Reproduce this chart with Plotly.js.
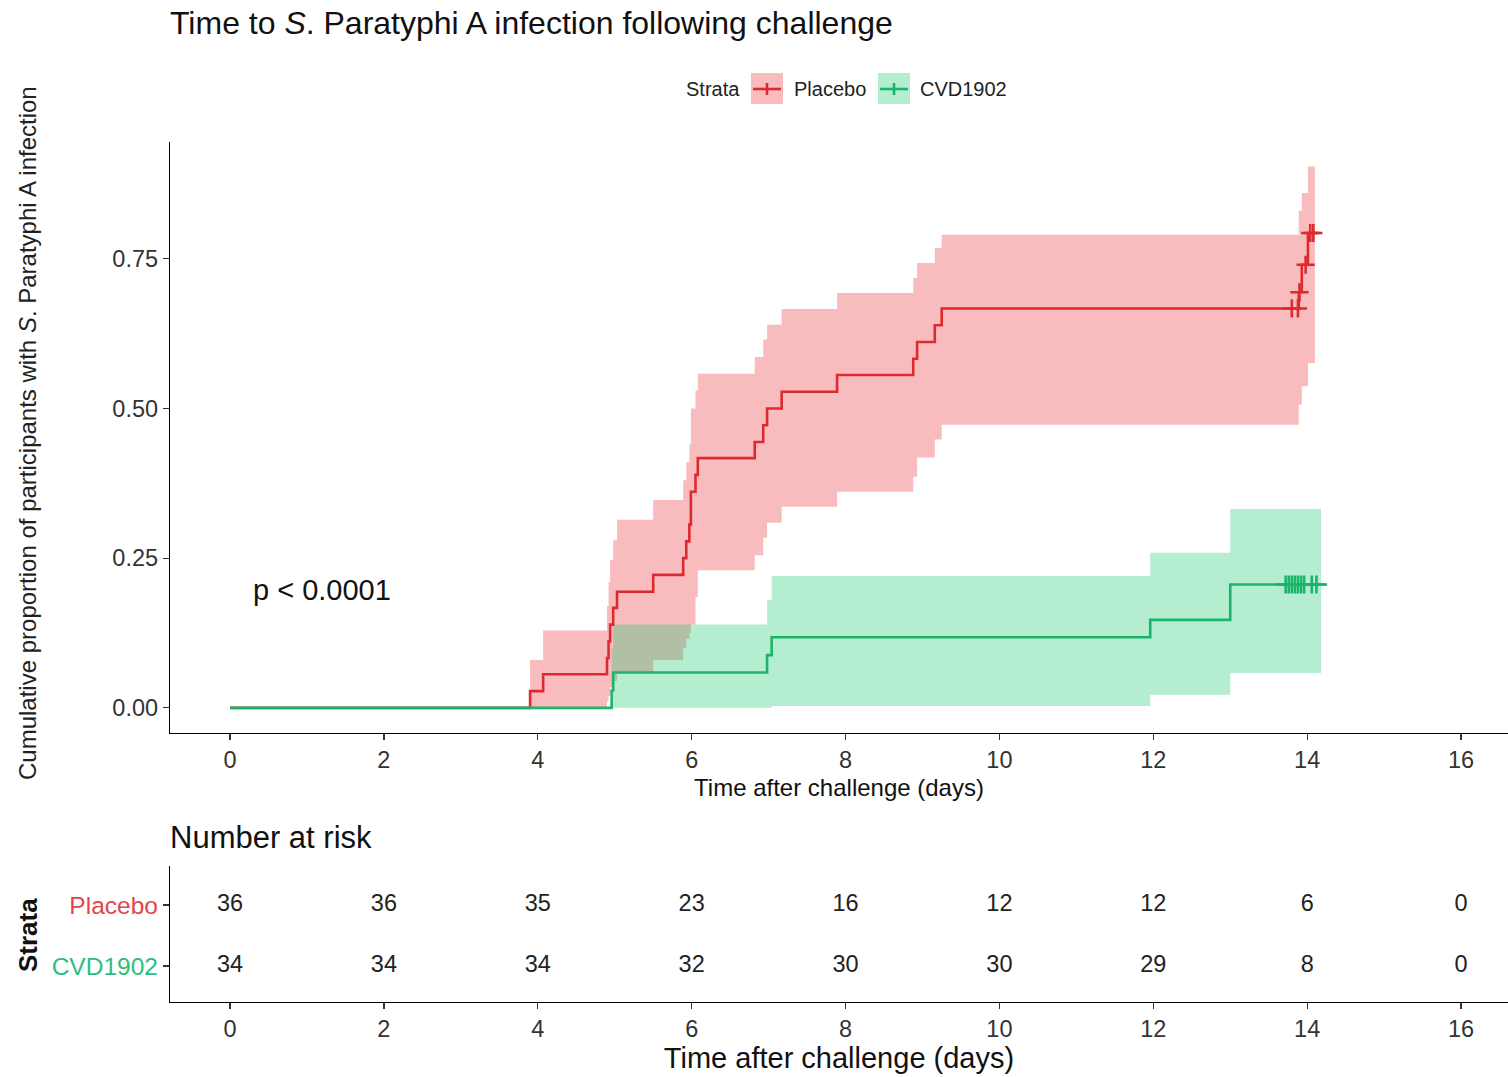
<!DOCTYPE html>
<html><head><meta charset="utf-8">
<script src="https://cdn.plot.ly/plotly-3.0.1.min.js"></script>
<style>html,body{margin:0;padding:0;background:#fff}#chart{width:1508px;height:1077px}</style>
</head><body><div id="chart"></div>
<script>
const W = 1508, H = 1077;
const px = v => v / W, py = v => 1 - v / H;

// ---- Placebo Kaplan-Meier (cumulative incidence) ----
const placeboTime = [0, 3.90, 4.07, 4.90, 4.92, 4.94, 4.98, 5.03, 5.50, 5.89, 5.93, 5.97, 5.99, 6.05, 6.08, 6.82, 6.93, 6.98, 7.17, 7.89, 8.88, 8.93, 9.16, 9.25, 13.89, 13.93, 14.01, 14.14];
const placeboCum  = [0, 0.028, 0.056, 0.083, 0.111, 0.139, 0.167, 0.194, 0.222, 0.250, 0.278, 0.306, 0.361, 0.389, 0.417, 0.444, 0.472, 0.500, 0.528, 0.556, 0.583, 0.611, 0.639, 0.667, 0.694, 0.740, 0.793, 0.793];
const placeboBandTime = [3.90, 4.07, 4.90, 4.92, 4.94, 4.98, 5.03, 5.50, 5.89, 5.93, 5.97, 5.99, 6.05, 6.08, 6.82, 6.93, 6.98, 7.17, 7.89, 8.88, 8.93, 9.16, 9.25, 13.89, 13.93, 14.01, 14.10];
const placeboUpper = [0.080, 0.129, 0.17, 0.21, 0.247, 0.28, 0.314, 0.347, 0.38, 0.41, 0.44, 0.50, 0.53, 0.558, 0.586, 0.615, 0.640, 0.666, 0.693, 0.718, 0.743, 0.768, 0.790, 0.83, 0.86, 0.904, 0.904];
const placeboLower = [0, 0, 0.01, 0.02, 0.035, 0.045, 0.058, 0.080, 0.10, 0.115, 0.125, 0.139, 0.185, 0.23, 0.255, 0.284, 0.309, 0.336, 0.361, 0.386, 0.418, 0.448, 0.473, 0.506, 0.537, 0.576, 0.576];
const placeboCensTime = [13.80, 13.88, 13.90, 13.98, 14.04, 14.08];
const placeboCensCum  = [0.667, 0.667, 0.694, 0.740, 0.793, 0.793];

// ---- CVD1902 ----
const cvdTime = [0, 4.96, 4.98, 6.98, 7.04, 11.96, 13.00, 14.26];
const cvdCum  = [0, 0.029, 0.059, 0.088, 0.118, 0.147, 0.206, 0.206];
const cvdBandTime = [4.96, 4.98, 6.98, 7.04, 11.96, 13.00, 14.18];
const cvdUpper = [0.10, 0.139, 0.18, 0.22, 0.259, 0.332, 0.332];
const cvdLower = [0, 0, 0, 0.003, 0.022, 0.058, 0.058];
const cvdCensTime = [13.72, 13.76, 13.80, 13.84, 13.88, 13.92, 13.96, 14.06, 14.12];
const cvdCensCum  = [0.206, 0.206, 0.206, 0.206, 0.206, 0.206, 0.206, 0.206, 0.206];

// ---- Number at risk ----
const riskTimes = [0, 2, 4, 6, 8, 10, 12, 14, 16];
const placeboRisk = [36, 36, 35, 23, 16, 12, 12, 6, 0];
const cvdRisk = [34, 34, 34, 32, 30, 30, 29, 8, 0];
const strataNames = ['Placebo', 'CVD1902'];
const xTicks = [0, 2, 4, 6, 8, 10, 12, 14, 16];
const yTicks = [0, 0.25, 0.50, 0.75];

const RED = '#DD2A2E', GREEN = '#1CB46A';
const RED_FILL = 'rgba(236,40,45,0.31)', GREEN_FILL = 'rgba(30,200,115,0.33)';
const RED_TXT = '#E0474B', GREEN_TXT = '#2DBE7C';

const band = (t, v, extra) => Object.assign({x: t, y: v, mode: 'lines', line: {shape: 'hv', width: 0}, hoverinfo: 'skip', showlegend: false, xaxis: 'x', yaxis: 'y'}, extra || {});

const traces = [
  band(placeboBandTime, placeboUpper),
  band(placeboBandTime, placeboLower, {fill: 'tonexty', fillcolor: RED_FILL}),
  band(cvdBandTime, cvdUpper),
  band(cvdBandTime, cvdLower, {fill: 'tonexty', fillcolor: GREEN_FILL}),
  {x: placeboTime, y: placeboCum, mode: 'lines', line: {shape: 'hv', width: 2.6, color: RED}, name: strataNames[0], showlegend: false, xaxis: 'x', yaxis: 'y'},
  {x: cvdTime, y: cvdCum, mode: 'lines', line: {shape: 'hv', width: 2.6, color: GREEN}, name: strataNames[1], showlegend: false, xaxis: 'x', yaxis: 'y'},
  {x: placeboCensTime, y: placeboCensCum, mode: 'markers', marker: {symbol: 'cross-thin', size: 13, color: RED, line: {width: 2.6, color: RED}}, showlegend: false, xaxis: 'x', yaxis: 'y'},
  {x: cvdCensTime, y: cvdCensCum, mode: 'markers', marker: {symbol: 'cross-thin', size: 13, color: GREEN, line: {width: 2.6, color: GREEN}}, showlegend: false, xaxis: 'x', yaxis: 'y'},
  {x: riskTimes, y: riskTimes.map(() => 2), text: placeboRisk.map(String), mode: 'text', textfont: {size: 23.5, color: '#222'}, showlegend: false, hoverinfo: 'skip', xaxis: 'x2', yaxis: 'y2'},
  {x: riskTimes, y: riskTimes.map(() => 1), text: cvdRisk.map(String), mode: 'text', textfont: {size: 23.5, color: '#222'}, showlegend: false, hoverinfo: 'skip', xaxis: 'x2', yaxis: 'y2'}
];

const axisCommon = {
  showline: true, linecolor: '#000', linewidth: 1.2, showgrid: false, zeroline: false,
  ticks: 'outside', ticklen: 6, tickwidth: 1.2, tickcolor: '#333', tickfont: {size: 23.5, color: '#333'}
};

const layout = {
  width: W, height: H,
  margin: {l: 0, r: 0, t: 0, b: 0},
  paper_bgcolor: '#fff', plot_bgcolor: '#fff',
  font: {family: '"Liberation Sans", Arial, sans-serif', color: '#111'},
  showlegend: false,
  title: {text: 'Time to <i>S</i>. Paratyphi A infection following challenge', x: px(170), xanchor: 'left', xref: 'paper', y: py(23), yanchor: 'middle', yref: 'paper', font: {size: 32, color: '#111'}},
  xaxis: Object.assign({}, axisCommon, {domain: [px(170), 1], range: [-0.78, 16.61], tickvals: xTicks, anchor: 'y',
    title: {text: 'Time after challenge (days)', font: {size: 24, color: '#111'}, standoff: 6}}),
  yaxis: Object.assign({}, axisCommon, {domain: [py(733), py(142)], range: [-0.042, 0.945], tickvals: yTicks, tickformat: '.2f', anchor: 'x'}),
  xaxis2: Object.assign({}, axisCommon, {domain: [px(170), 1], range: [-0.78, 16.61], tickvals: xTicks, anchor: 'y2',
    title: {text: 'Time after challenge (days)', font: {size: 29, color: '#111'}, standoff: 6}}),
  yaxis2: Object.assign({}, axisCommon, {domain: [py(1002), py(866)], range: [0.41, 2.64], tickvals: [2, 1], anchor: 'x2',
    ticktext: ['<span style="color:' + RED_TXT + '">' + strataNames[0] + '</span>', '<span style="color:' + GREEN_TXT + '">' + strataNames[1] + '</span>'],
    tickfont: {size: 24.5}}),
  annotations: [
    {xref: 'paper', yref: 'paper', x: px(27), y: py(433), xanchor: 'center', yanchor: 'middle', text: 'Cumulative proportion of participants with <i>S</i>. Paratyphi A infection', textangle: -90, showarrow: false, font: {size: 24, color: '#222'}},
    {xref: 'x', yref: 'y', x: 0.27, y: 0.197, xanchor: 'left', yanchor: 'middle', text: 'p < 0.0001', showarrow: false, font: {size: 29, color: '#111'}},
    {xref: 'paper', yref: 'paper', x: px(168), y: py(838), xanchor: 'left', yanchor: 'middle', text: 'Number at risk', showarrow: false, font: {size: 31, color: '#111'}},
    {xref: 'paper', yref: 'paper', x: px(28), y: py(935), xanchor: 'center', yanchor: 'middle', text: '<b>Strata</b>', textangle: -90, showarrow: false, font: {size: 26, color: '#111'}},
    {xref: 'paper', yref: 'paper', x: px(713), y: py(89), xanchor: 'center', yanchor: 'middle', text: 'Strata', showarrow: false, font: {size: 20, color: '#222'}},
    {xref: 'paper', yref: 'paper', x: px(792), y: py(89), xanchor: 'left', yanchor: 'middle', text: strataNames[0], showarrow: false, font: {size: 20, color: '#222'}},
    {xref: 'paper', yref: 'paper', x: px(918), y: py(89), xanchor: 'left', yanchor: 'middle', text: strataNames[1], showarrow: false, font: {size: 20, color: '#222'}}
  ],
  shapes: [
    {type: 'rect', xref: 'paper', yref: 'paper', x0: px(751), x1: px(783), y0: py(104), y1: py(73), fillcolor: RED_FILL, line: {width: 0}},
    {type: 'line', xref: 'paper', yref: 'paper', x0: px(753), x1: px(781), y0: py(89), y1: py(89), line: {color: RED, width: 2.6}},
    {type: 'line', xref: 'paper', yref: 'paper', x0: px(767), x1: px(767), y0: py(95), y1: py(83), line: {color: RED, width: 2.6}},
    {type: 'rect', xref: 'paper', yref: 'paper', x0: px(878), x1: px(910), y0: py(104), y1: py(73), fillcolor: GREEN_FILL, line: {width: 0}},
    {type: 'line', xref: 'paper', yref: 'paper', x0: px(880), x1: px(908), y0: py(89), y1: py(89), line: {color: GREEN, width: 2.6}},
    {type: 'line', xref: 'paper', yref: 'paper', x0: px(894), x1: px(894), y0: py(95), y1: py(83), line: {color: GREEN, width: 2.6}}
  ]
};

Plotly.newPlot('chart', traces, layout, {displayModeBar: false, staticPlot: true});
</script>
</body></html>
